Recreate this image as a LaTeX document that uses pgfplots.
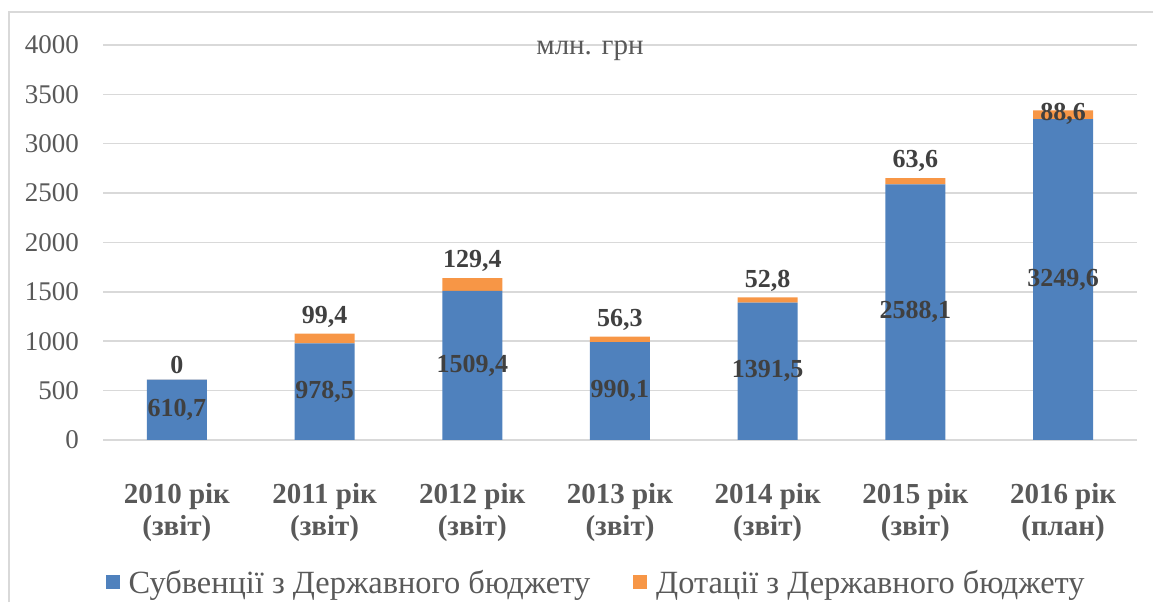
\documentclass[border=0pt]{standalone}
\usepackage{pgfplots}
\pgfplotsset{compat=1.18}
\usepackage{fontspec}
\setmainfont{Liberation Serif}
\definecolor{barblue}{HTML}{4F81BD}
\definecolor{barorange}{HTML}{F79646}
\definecolor{gridgray}{HTML}{D9D9D9}
\definecolor{txtgray}{HTML}{595959}
\definecolor{lblgray}{HTML}{404040}
\pgfplotstableread{
x sub dot
0 610.7 0
1 978.5 99.4
2 1509.4 129.4
3 990.1 56.3
4 1391.5 52.8
5 2588.1 63.6
6 3249.6 88.6
}\budget
\pgfplotstableread{
x y lab
0 305.35 610,7
1 489.25 978,5
2 754.7 1509,4
3 495.05 990,1
4 695.75 1391,5
5 1294.05 2588,1
6 1624.8 3249,6
}\sublabels
\pgfplotstableread{
x y lab
0 610.7 0
1 1077.9 99,4
2 1638.8 129,4
3 1046.4 56,3
4 1444.3 52,8
5 2651.7 63,6
6 3130 88,6
}\dotlabels
\begin{document}
\begin{tikzpicture}[x=1pt,y=1pt]
\useasboundingbox (0,0) rectangle (1153,602);
\draw[gridgray, line width=1.5pt] (9,0) -- (9,590) -- (1153,590);
\begin{axis}[
  at={(103pt,162pt)}, anchor=south west,
  scale only axis, width=1034pt, height=395pt,
  xmin=-0.5, xmax=6.5, ymin=0, ymax=4000,
  clip=false,
  stack plots=y,
  axis line style={draw=none},
  major tick length=0pt,
  ymajorgrids, grid style={gridgray, line width=1.5pt},
  ytick={0,500,...,4000},
  /pgf/number format/assume math mode=true,
  /pgf/number format/1000 sep={},
  yticklabel style={font=\fontsize{27}{30}\selectfont, text=txtgray, inner sep=0pt, anchor=east, xshift=-24pt},
  xtick={0,...,6},
  xticklabels={{2010 рік\\(звіт)},{2011 рік\\(звіт)},{2012 рік\\(звіт)},{2013 рік\\(звіт)},{2014 рік\\(звіт)},{2015 рік\\(звіт)},{2016 рік\\(план)}},
  xticklabel style={font=\bfseries\fontsize{29}{32}\selectfont, text=txtgray, align=center, inner sep=0pt, anchor=north, yshift=-43pt},
  legend columns=2,
  legend style={at={(0.476,-0.36)}, anchor=center, draw=none, fill=none,
    font=\fontsize{32.4}{35}\selectfont, text=txtgray, inner sep=0pt,
    nodes={inner sep=0pt},
    /tikz/every odd column/.append style={column sep=9pt},
    /tikz/every even column/.append style={column sep=43pt}},
  legend image code/.code={\fill[#1] (0pt,-7pt) rectangle (14pt,7pt);},
]
\addplot[ybar, bar width=60pt, bar shift=0pt, fill=barblue, draw=none] table[x=x, y=sub] {\budget};
\addlegendentry{Субвенції з Державного бюджету}
\addplot[ybar, bar width=60pt, bar shift=0pt, fill=barorange, draw=none] table[x=x, y=dot] {\budget};
\addlegendentry{Дотації з Державного бюджету}
\addplot[stack plots=false, forget plot, draw=none, mark=none, nodes near coords, point meta=explicit symbolic,
  every node near coord/.style={anchor=center, font=\bfseries\fontsize{26}{30}\selectfont, text=lblgray, inner sep=0pt}]
  table[x=x, y=y, meta=lab] {\sublabels};
\addplot[stack plots=false, forget plot, draw=none, mark=none, nodes near coords, point meta=explicit symbolic,
  every node near coord/.style={anchor=south, font=\bfseries\fontsize{26}{30}\selectfont, text=lblgray, inner sep=0pt, yshift=6pt}]
  table[x=x, y=y, meta=lab] {\dotlabels};
\node[font=\fontsize{29}{32}\selectfont, text=txtgray] at (rel axis cs:0.471,0.985) {млн. грн};
\end{axis}
\end{tikzpicture}
\end{document}
